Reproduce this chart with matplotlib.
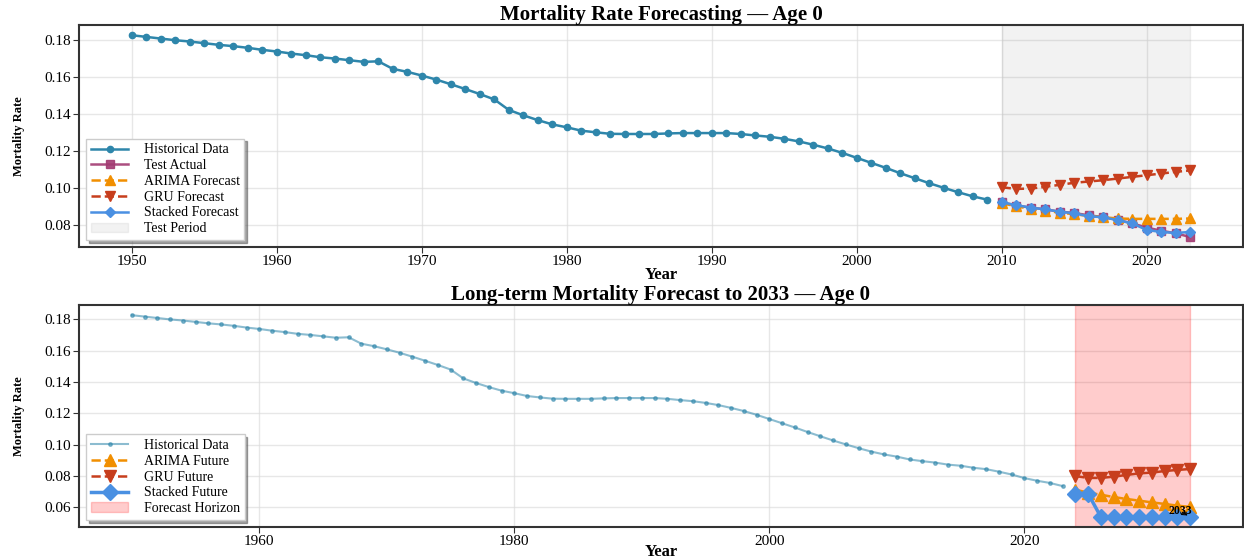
import matplotlib
matplotlib.use("Agg")
import matplotlib.pyplot as plt
import numpy as np

plt.rcParams['font.family'] = ['Liberation Serif', 'DejaVu Serif']

# datos historicos 1950-2009
hist_years = list(range(1950, 2010))
hist_vals = [0.1827, 0.1818, 0.1809, 0.1800, 0.1793, 0.1784, 0.1775, 0.1768, 0.1759, 0.1748,
             0.1739, 0.1728, 0.1719, 0.1708, 0.1701, 0.1692, 0.1683, 0.1686, 0.1645, 0.1629,
             0.1609, 0.1587, 0.1562, 0.1536, 0.1509, 0.1480, 0.1423, 0.1394, 0.1368, 0.1345,
             0.1329, 0.1311, 0.1302, 0.1294, 0.1293, 0.1293, 0.1293, 0.1296, 0.1298, 0.1298,
             0.1298, 0.1298, 0.1293, 0.1285, 0.1278, 0.1267, 0.1253, 0.1235, 0.1215, 0.1191,
             0.1164, 0.1137, 0.1110, 0.1081, 0.1054, 0.1027, 0.1002, 0.0978, 0.0956, 0.0938]

# periodo de prueba 2010-2023
test_years = list(range(2010, 2024))
test_actual = [0.0924, 0.0906, 0.0895, 0.0886, 0.0873, 0.0866, 0.0853, 0.0844, 0.0828, 0.0810,
               0.0787, 0.0770, 0.0756, 0.0736]
arima_fc = [0.0919, 0.0902, 0.0888, 0.0877, 0.0868, 0.0859, 0.0850, 0.0843, 0.0836, 0.0834,
            0.0834, 0.0834, 0.0834, 0.0836]
gru_fc = [0.1005, 0.0996, 0.0998, 0.1007, 0.1018, 0.1029, 0.1036, 0.1043, 0.1052, 0.1061,
          0.1070, 0.1079, 0.1088, 0.1096]
stacked_fc = [0.0924, 0.0908, 0.0895, 0.0885, 0.0873, 0.0864, 0.0848, 0.0843, 0.0827, 0.0810,
              0.0774, 0.0763, 0.0758, 0.0763]

# futuro 2024-2033
fut_years = list(range(2024, 2034))
arima_fut = [0.0713, 0.0694, 0.0681, 0.0666, 0.0654, 0.0643, 0.0632, 0.0622, 0.0611, 0.0603]
gru_fut = [0.0800, 0.0788, 0.0788, 0.0796, 0.0807, 0.0817, 0.0822, 0.0832, 0.0839, 0.0845]
stacked_fut = [0.0688, 0.0688, 0.0539, 0.0539, 0.0539, 0.0539, 0.0539, 0.0539, 0.0539, 0.0539]

c_hist = '#2E86AB'
c_test = '#A23B72'
c_arima = '#F18F01'
c_gru = '#C73E1D'
c_stack = '#4A90E2'

fig = plt.figure(figsize=(12.44, 5.59), dpi=100)
ax1 = fig.add_axes([0.0635, 0.558, 0.9357, 0.397])
ax2 = fig.add_axes([0.0635, 0.0572, 0.9357, 0.397])

leg_kw = dict(loc='lower left', fontsize=10, shadow=True, framealpha=1, edgecolor='#cccccc',
              labelspacing=0.2, handlelength=2.7, handletextpad=1.1, borderpad=0.35,
              fancybox=False)

# ---------------- panel 1
ax1.plot(hist_years, hist_vals, 'o-', color=c_hist, lw=1.8, ms=4.5, label='Historical Data')
ax1.plot(test_years, test_actual, 's-', color=c_test, lw=1.8, ms=6, alpha=0.9, label='Test Actual')
ax1.plot(test_years, arima_fc, '^--', color=c_arima, lw=1.8, ms=7.5, label='ARIMA Forecast')
ax1.plot(test_years, gru_fc, 'v--', color=c_gru, lw=1.8, ms=7.5, label='GRU Forecast')
ax1.plot(test_years, stacked_fc, 'D-', color=c_stack, lw=1.8, ms=5.5, label='Stacked Forecast')
ax1.axvspan(test_years[0], test_years[-1], color='gray', alpha=0.1, label='Test Period')
ax1.set_title('Mortality Rate Forecasting — Age 0', fontsize=15, fontweight='bold', pad=3)
ax1.set_xlabel('Year', fontsize=12, fontweight='bold', labelpad=-1)
ax1.set_ylabel('Mortality Rate', fontsize=9, fontweight='bold', labelpad=14)
ax1.legend(**leg_kw)

# ---------------- panel 2
all_years = hist_years + test_years
all_vals = hist_vals + test_actual
ax2.plot(all_years, all_vals, 'o-', color=c_hist, lw=1.5, ms=2.5, alpha=0.55, mfc=c_hist, label='Historical Data')
ax2.plot(fut_years, arima_fut, '^--', color=c_arima, lw=1.8, ms=8, label='ARIMA Future')
ax2.plot(fut_years, gru_fut, 'v--', color=c_gru, lw=1.8, ms=8, label='GRU Future')
ax2.plot(fut_years, stacked_fut, 'D-', color=c_stack, lw=2.5, ms=8.5, label='Stacked Future')
ax2.axvspan(fut_years[0], fut_years[-1], color='red', alpha=0.2, label='Forecast Horizon')
ax2.annotate('2033', xy=(fut_years[-1], stacked_fut[-1]), xytext=(2032.2, 0.0578),
             fontsize=8.5, fontweight='bold', ha='center', va='center',
             arrowprops=dict(arrowstyle='->', color='black', lw=0.8))
ax2.set_title('Long-term Mortality Forecast to 2033 — Age 0', fontsize=15, fontweight='bold', pad=3)
ax2.set_xlabel('Year', fontsize=12, fontweight='bold', labelpad=-3)
ax2.set_ylabel('Mortality Rate', fontsize=9, fontweight='bold', labelpad=14)
ax2.legend(**leg_kw)

for ax in (ax1, ax2):
    ax.grid(True, color='#dddddd', lw=1, alpha=0.7)
    ax.set_axisbelow(True)
    for s in ax.spines.values():
        s.set_color('#333333')
        s.set_linewidth(1.5)
    ax.tick_params(labelsize=11, length=4, pad=2, color='#333333')

ax1.set_yticks([0.08, 0.10, 0.12, 0.14, 0.16, 0.18])
ax2.set_yticks([0.06, 0.08, 0.10, 0.12, 0.14, 0.16, 0.18])

fig.savefig('out.png', dpi=100)
